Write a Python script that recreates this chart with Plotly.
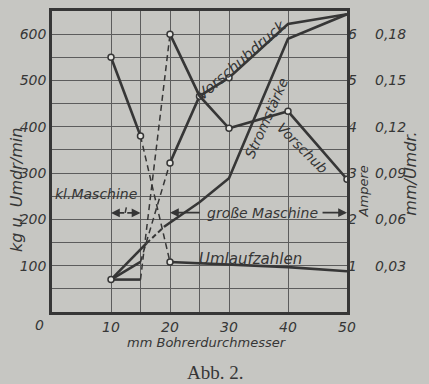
import plotly.graph_objects as go

# ---- data ----
# drill diameter (mm)
d_klein = [10, 15]                 # small machine
d_gross = [20, 25, 30, 40, 50]     # large machine
d_umlauf_gross = [20, 30, 40, 50]

# Umlaufzahlen (U/min)
umlauf_klein = [550, 380]
umlauf_gross = [108, 103, 97, 88]
umlauf_mark_klein = [True, True]
umlauf_mark_gross = [True, False, False, False]

# Vorschubdruck (kg)
druck_klein = [70, 108]
druck_gross = [322, 466, 506, 622, 643]
druck_mark_gross = [True, True, True, False, False]

# Vorschub (mm/Umdr.)
vorschub_klein = [0.021, 0.021]
vorschub_gross = [0.180, 0.140, 0.119, 0.130, 0.086]
vorschub_mark_klein = [True, False]
vorschub_mark_gross = [True, False, True, True, True]

# Stromstärke (Ampere)
d_strom_a = [10, 16]
strom_a = [0.70, 1.48]
d_strom_b = [19, 25, 30, 40, 50]
strom_b = [1.84, 2.37, 2.89, 5.90, 6.43]

# axis ticks
x_ticks = [10, 15, 20, 25, 30, 40, 50]
x_labels = ["10", "", "20", "", "30", "40", "50"]
y_ticks = list(range(0, 651, 50))
y_labels = [str(v) if (v % 100 == 0 and 100 <= v <= 600) else "" for v in y_ticks]
amp_ticks = [1, 2, 3, 4, 5, 6]
feed_ticks = [0.03, 0.06, 0.09, 0.12, 0.15, 0.18]
feed_labels = ["0,03", "0,06", "0,09", "0,12", "0,15", "0,18"]

INK = "#363636"
GRID = "#5c5c5c"
PAPER = "#c6c6c2"
FONT = "DejaVu Sans"

fig = go.Figure()


def seg(x, y, axis="y", dash="solid", width=2.6):
    fig.add_trace(go.Scatter(x=x, y=y, yaxis=axis, mode="lines",
                             line=dict(color=INK, width=width, dash=dash),
                             showlegend=False, hoverinfo="skip"))


def marks(x, y, flags, axis="y"):
    xs = [a for a, f in zip(x, flags) if f]
    ys = [b for b, f in zip(y, flags) if f]
    fig.add_trace(go.Scatter(x=xs, y=ys, yaxis=axis, mode="markers",
                             marker=dict(symbol="circle", size=6, color="#e4e4e0",
                                         line=dict(color=INK, width=1.5)),
                             showlegend=False, hoverinfo="skip"))


# Umlaufzahlen
seg(d_klein, umlauf_klein)
seg([d_klein[-1], d_gross[0]], [umlauf_klein[-1], umlauf_gross[0]], dash="6px,4px", width=1.5)
seg(d_umlauf_gross, umlauf_gross)

# Vorschubdruck
seg(d_klein, druck_klein)
seg([d_klein[-1], d_gross[0]], [druck_klein[-1], druck_gross[0]], dash="6px,4px", width=1.5)
seg(d_gross, druck_gross)

# Vorschub (y3)
seg(d_klein, vorschub_klein, axis="y3")
seg([d_klein[-1], d_gross[0]], [vorschub_klein[-1], vorschub_gross[0]], axis="y3",
    dash="6px,4px", width=1.5)
seg(d_gross, vorschub_gross, axis="y3")

# Stromstärke (y2)
seg(d_strom_a, strom_a, axis="y2")
seg([d_strom_a[-1], d_strom_b[0]], [strom_a[-1], strom_b[0]], axis="y2", dash="5px,3px", width=2)
seg(d_strom_b, strom_b, axis="y2")

# markers
marks(d_klein, umlauf_klein, umlauf_mark_klein)
marks(d_umlauf_gross, umlauf_gross, umlauf_mark_gross)
marks(d_gross, druck_gross, druck_mark_gross)
marks(d_klein, vorschub_klein, vorschub_mark_klein, axis="y3")
marks(d_gross, vorschub_gross, vorschub_mark_gross, axis="y3")

tickfont = dict(family=FONT, size=14, color=INK)

fig.update_layout(
    width=429, height=384,
    margin=dict(l=52, r=82, t=8, b=72),
    paper_bgcolor=PAPER, plot_bgcolor=PAPER,
    font=dict(family=FONT, color=INK),
    xaxis=dict(range=[0, 50], tickvals=x_ticks,
               ticktext=["<i>%s</i>" % t if t else "" for t in x_labels],
               showgrid=True, gridcolor=GRID, gridwidth=1, zeroline=False,
               showline=True, mirror=True, linecolor=INK, linewidth=2.5,
               ticks="", tickfont=tickfont),
    yaxis=dict(range=[0, 650], tickvals=y_ticks,
               ticktext=["<i>%s</i>" % t if t else "" for t in y_labels],
               showgrid=True, gridcolor=GRID, gridwidth=1, zeroline=False,
               showline=True, mirror=True, linecolor=INK, linewidth=2.5,
               ticks="", tickfont=tickfont),
    yaxis2=dict(range=[0, 6.5], overlaying="y", side="right", anchor="x",
                tickvals=amp_ticks, ticktext=["<i>%d</i>" % a for a in amp_ticks],
                showgrid=False, zeroline=False, showline=False, ticks="",
                tickfont=tickfont),
    yaxis3=dict(range=[0, 0.195], overlaying="y", side="right", anchor="free",
                position=1, tickvals=feed_ticks,
                ticktext=["<i>%s</i>" % t for t in feed_labels],
                showgrid=False, zeroline=False, showline=False, ticks="",
                ticklabelstandoff=27, tickfont=tickfont),
)

ann = []


def txt(x, y, s, size=14, angle=0, xref="x", yref="y", fam=FONT, italic=True):
    ann.append(dict(x=x, y=y, xref=xref, yref=yref, text=("<i>%s</i>" % s) if italic else s,
                    xanchor="center", yanchor="middle",
                    showarrow=False, textangle=angle,
                    font=dict(family=fam, size=size, color=INK)))


def arrow(x_head, x_tail, y):
    ann.append(dict(x=x_head, y=y, ax=x_tail, ay=y, xref="x", yref="y",
                    axref="x", ayref="y", text="", showarrow=True,
                    arrowhead=2, arrowsize=1.1, arrowwidth=1.6, arrowcolor=INK))


txt(7.4, 254, "kl.Maschine", 14)
txt(35.7, 214, "große Maschine", 14)
txt(33.6, 115, "Umlaufzahlen", 15)
txt(32.1, 545, "Vorschubdruck", 15, angle=-41)
txt(36.4, 418, "Stromstärke", 14, angle=-66)
txt(42.4, 354, "Vorschub", 14, angle=45)

arrow(10, 12.5, 214)
arrow(15, 12.5, 214)
arrow(20, 25.3, 214.5)
arrow(50, 45.6, 214.5)

txt(-0.122, 0.405, "kg u. Umdr/min", 16, angle=-90, xref="paper", yref="paper")
txt(1.057, 0.40, "Ampere", 13, angle=-90, xref="paper", yref="paper")
txt(1.214, 0.46, "mm/Umdr.", 16, angle=-90, xref="paper", yref="paper")
txt(0.525, -0.102, "mm Bohrerdurchmesser", 13, xref="paper", yref="paper")
txt(-0.041, -0.043, "0", 14, xref="paper", yref="paper")
txt(0.553, -0.2, "Abb. 2.", 19, xref="paper", yref="paper", fam="Liberation Serif", italic=False)

fig.update_layout(annotations=ann)
fig.add_shape(type="line", x0=12.4, x1=12.6, y0=214, y1=226, xref="x", yref="y",
              line=dict(color=INK, width=1.5))

fig.write_html("out.html")
